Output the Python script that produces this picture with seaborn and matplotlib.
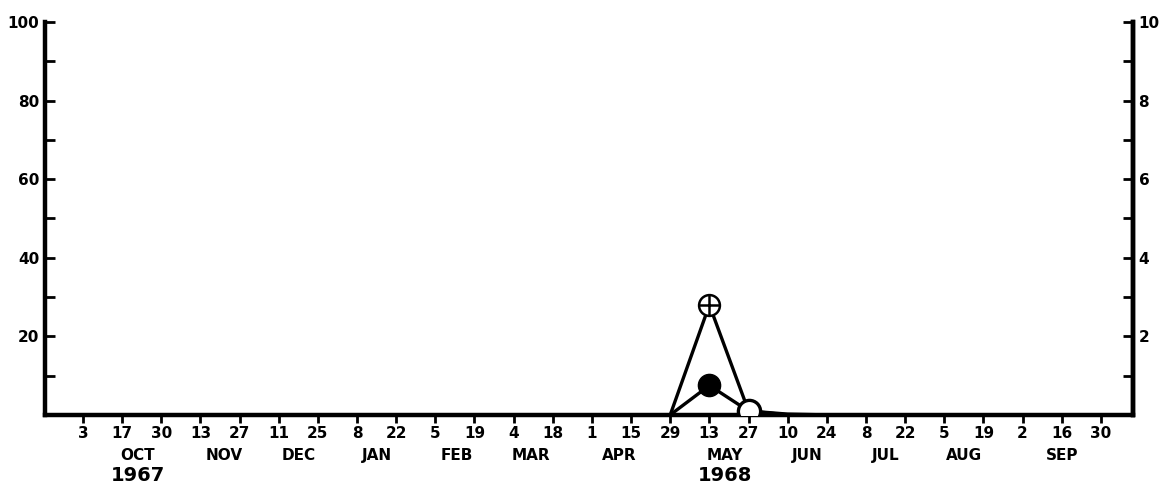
import matplotlib

matplotlib.use('Agg')
import matplotlib.pyplot as plt
import seaborn as sns
import pandas as pd

# tick dates (biweekly sampling), 1967-68
days = ["3", "17", "30", "13", "27", "11", "25", "8", "22", "5", "19", "4", "18",
        "1", "15", "29", "13", "27", "10", "24", "8", "22", "5", "19", "2", "16", "30"]
months = ["OCT", "NOV", "DEC", "JAN", "FEB", "MAR", "APR", "MAY", "JUN", "JUL", "AUG", "SEP"]
years = ["1967", "1968"]

# series values at each sampling date
series_cross = [0, 0, 0, 0, 0, 0, 0, 0, 0, 0, 0, 0, 0, 0, 0, 0, 28, 1, 0, 0, 0, 0, 0, 0, 0, 0, 0]
series_dot = [0, 0, 0, 0, 0, 0, 0, 0, 0, 0, 0, 0, 0, 0, 0, 0, 7.5, 1, 0.2, 0, 0, 0, 0, 0, 0, 0, 0]

# layout only
month_pos = [1.4, 3.6, 5.5, 7.5, 9.55, 11.45, 13.7, 16.4, 18.5, 20.5, 22.5, 25.0]
year_pos = [1.4, 16.4]

sns.set_theme(style="white")
plt.rcParams['font.family'] = ['DejaVu Sans']
plt.rcParams['font.weight'] = 'bold'
plt.rcParams['text.color'] = 'black'
plt.rcParams['xtick.color'] = 'black'
plt.rcParams['ytick.color'] = 'black'
plt.rcParams['xtick.labelcolor'] = 'black'
plt.rcParams['ytick.labelcolor'] = 'black'

df = pd.DataFrame({"x": range(len(days)), "cross": series_cross, "dot": series_dot})

fig = plt.figure(figsize=(11.6, 4.91), dpi=100)
ax = fig.add_axes([0.0388, 0.155, 0.9379, 0.80])

sns.lineplot(data=df, x="x", y="cross", ax=ax, color="black", linewidth=2.4)
sns.lineplot(data=df, x="x", y="dot", ax=ax, color="black", linewidth=2.4)

# markers at the peak
peak = df.iloc[16]
nxt = df.iloc[17]
ax.plot(peak["x"], peak["cross"], marker="o", markersize=15, markerfacecolor="white",
        markeredgecolor="black", markeredgewidth=1.8, zorder=5)
ax.plot(peak["x"], peak["cross"], marker="+", markersize=15, color="black",
        markeredgewidth=1.8, zorder=6)
ax.plot(peak["x"], peak["dot"], marker="o", markersize=16, color="black", zorder=5)
ax.plot(nxt["x"], nxt["dot"], marker="o", markersize=16, markerfacecolor="white",
        markeredgecolor="black", markeredgewidth=2.4, zorder=5)

ax.set_xlim(-0.97, 26.82)
ax.set_ylim(0, 100)
ax.set_xlabel("")
ax.set_ylabel("")

ax.set_xticks(range(len(days)))
ax.set_xticklabels(days, fontsize=11, fontweight="bold")
ax.tick_params(axis="x", direction="out", length=6, width=2, pad=2, bottom=True)

ax.set_yticks(range(0, 101, 10))
ax.set_yticklabels(["" if v % 20 or v == 0 else str(v) for v in range(0, 101, 10)],
                   fontsize=11, fontweight="bold")
ax.tick_params(axis="y", direction="in", length=7, width=2, pad=4, left=True)

for side in ["left", "bottom", "right"]:
    ax.spines[side].set_linewidth(3.2)
    ax.spines[side].set_color("black")
ax.spines["top"].set_visible(False)

ax2 = ax.twinx()
ax2.set_ylim(0, 10)
ax2.set_yticks(range(0, 11))
ax2.set_yticklabels(["" if v % 2 or v == 0 else str(v) for v in range(0, 11)],
                    fontsize=11, fontweight="bold")
ax2.tick_params(axis="y", direction="in", length=7, width=2, pad=4, right=True)
for side in ["left", "bottom", "top"]:
    ax2.spines[side].set_visible(False)
ax2.spines["right"].set_linewidth(3.2)
ax2.spines["right"].set_color("black")
ax2.grid(False)
ax.grid(False)

trans = ax.get_xaxis_transform()
for m, p in zip(months, month_pos):
    ax.text(p, -0.085, m, transform=trans, ha="center", va="top", fontsize=11,
            fontweight="bold", color="black")
for y, p in zip(years, year_pos):
    ax.text(p, -0.13, y, transform=trans, ha="center", va="top", fontsize=14,
            fontweight="bold", color="black")

plt.savefig("out.png", dpi=100)
plt.close()
